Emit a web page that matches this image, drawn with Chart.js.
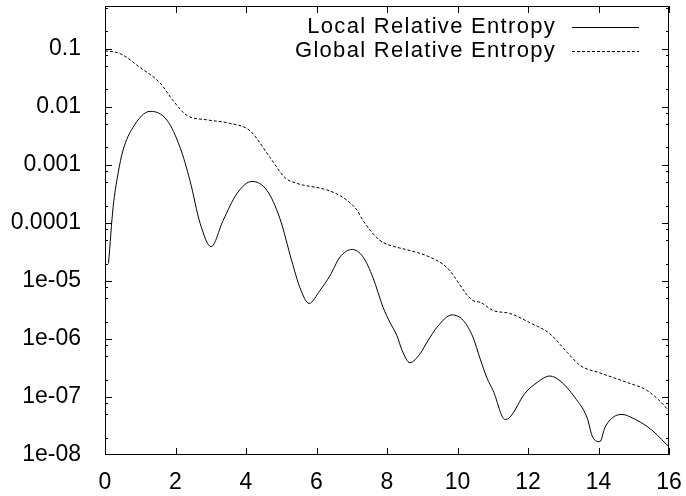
<!DOCTYPE html>
<html>
<head>
<meta charset="utf-8">
<script src="https://cdn.jsdelivr.net/npm/chart.js@4/dist/chart.umd.min.js"></script>
<style>
    body { margin: 0; background: #fff; }
    canvas { display: block; }
</style>
</head>
<body>
<canvas id="entropy" width="686" height="496"></canvas>
<script>
// Local relative entropy (solid line)
const localX = [0.1, 0.23, 0.37, 0.51, 0.79, 1.28, 1.76, 2.13, 2.41, 2.7, 3.01, 3.35, 3.74, 4.17, 4.6, 4.96, 5.3, 5.53, 5.79, 6.1, 6.38, 6.67, 7.01, 7.32, 7.6, 7.89, 8.09, 8.28, 8.43, 8.65, 8.94, 9.16, 9.42, 9.84, 10.16, 10.44, 10.64, 10.84, 11.01, 11.35, 11.49, 11.91, 12.26, 12.62, 12.91, 13.33, 13.67, 13.84, 14.04, 14.18, 14.42, 14.67, 14.98, 15.38, 15.66, 15.94, 16];
const localY = [2.0e-5, 1.86e-4, 7.1e-4, 1.78e-3, 4.4e-3, 8.4e-3, 5.9e-3, 2.0e-3, 5.4e-4, 9.8e-5, 3.9e-5, 1.1e-4, 3.2e-4, 5.2e-4, 3.6e-4, 1.2e-4, 2.2e-5, 7.7e-6, 4.1e-6, 6.9e-6, 1.23e-5, 2.6e-5, 3.5e-5, 2.6e-5, 1.15e-5, 3.5e-6, 1.9e-6, 1.15e-6, 6.3e-7, 3.9e-7, 5.6e-7, 9.3e-7, 1.6e-6, 2.6e-6, 2.1e-6, 1.07e-6, 4.6e-7, 2.1e-7, 1.29e-7, 4.1e-8, 4.5e-8, 1.15e-7, 1.78e-7, 2.3e-7, 1.9e-7, 9.8e-8, 4.5e-8, 2.0e-8, 1.7e-8, 2.95e-8, 4.5e-8, 5.0e-8, 4.3e-8, 3.1e-8, 2.24e-8, 1.5e-8, 1.4e-8];

// Global relative entropy (dashed line)
const globalX = [0, 0.43, 0.99, 1.56, 1.93, 2.33, 2.89, 3.55, 4.11, 4.68, 5.11, 5.45, 6.3, 6.75, 7.15, 7.32, 7.8, 8.28, 8.45, 9.22, 9.7, 10.44, 10.64, 11.01, 11.49, 12.06, 12.62, 13.11, 13.48, 14.04, 14.81, 15.38, 15.94, 16];
const globalY = [0.093, 0.083, 0.048, 0.026, 0.0129, 0.0071, 0.006, 0.0052, 0.0039, 0.00135, 6.0e-4, 4.8e-4, 3.7e-4, 2.75e-4, 1.66e-4, 1.1e-4, 5.0e-5, 3.8e-5, 3.6e-5, 2.57e-5, 1.7e-5, 4.6e-6, 4.3e-6, 3.1e-6, 2.75e-6, 1.9e-6, 1.23e-6, 5.9e-7, 3.5e-7, 2.6e-7, 1.78e-7, 1.29e-7, 6.3e-8, 5.6e-8];

const seriesNames = ["Local Relative Entropy", "Global Relative Entropy"];

// Axis ticks
const xTickValues = [0, 2, 4, 6, 8, 10, 12, 14, 16];
const yTickValues = [1e-8, 1e-7, 1e-6, 1e-5, 1e-4, 1e-3, 1e-2, 1e-1];
const yTickLabels = ["1e-08", "1e-07", "1e-06", "1e-05", "0.0001", "0.001", "0.01", "0.1"];
const yMinorFactors = [2, 5, 8];

const FAMILY = "'Liberation Sans', Arial, Helvetica, sans-serif";
const TICK_FONT = { family: FAMILY, size: 23 };

const toPoints = (xs, ys) => xs.map((x, i) => ({ x: x, y: ys[i] }));

// no extra room for the end labels, the frame is placed by hand
const noScalePadding = scale => {
    scale.paddingTop = 0;
    scale.paddingBottom = 0;
    scale.paddingLeft = 0;
    scale.paddingRight = 0;
};

// gnuplot style frame with inward ticks on all four sides
const framePlugin = {
    id: "frame",
    afterDraw(chart) {
        const ctx = chart.ctx;
        const a = chart.chartArea;
        const xs = chart.scales.x;
        const ys = chart.scales.y;
        ctx.save();
        ctx.strokeStyle = "#000";
        ctx.lineWidth = 1;
        ctx.beginPath();
        ctx.rect(a.left + 0.5, a.top + 0.5, a.right - a.left - 1, a.bottom - a.top - 1);

        xTickValues.forEach(v => {
            const px = Math.round(xs.getPixelForValue(v)) + 0.5;
            ctx.moveTo(px, a.bottom);
            ctx.lineTo(px, a.bottom - 7);
            ctx.moveTo(px, a.top);
            ctx.lineTo(px, a.top + 7);
        });

        const yTick = (v, len) => {
            const py = Math.round(ys.getPixelForValue(v)) + 0.5;
            if (py < a.top || py > a.bottom) return;
            ctx.moveTo(a.left, py);
            ctx.lineTo(a.left + len, py);
            ctx.moveTo(a.right, py);
            ctx.lineTo(a.right - len, py);
        };
        yTickValues.forEach(v => {
            yTick(v, 7);
            yMinorFactors.forEach(f => yTick(v * f, 3));
        });
        ctx.stroke();

        // key in the top right corner
        ctx.font = "22px " + FAMILY;
        ctx.letterSpacing = "1.3px";
        ctx.fillStyle = "#000";
        ctx.textAlign = "right";
        ctx.textBaseline = "middle";
        chart.data.datasets.forEach((ds, i) => {
            const y = 26.5 + i * 24.5;
            ctx.fillText(ds.label, 556, y);
            ctx.beginPath();
            ctx.setLineDash(ds.borderDash || []);
            ctx.moveTo(572, Math.round(y) + 0.5);
            ctx.lineTo(639, Math.round(y) + 0.5);
            ctx.stroke();
        });
        ctx.restore();
    }
};

const ctx = document.getElementById("entropy").getContext("2d");
new Chart(ctx, {
    type: "line",
    data: {
        datasets: [{
            label: seriesNames[0],
            data: toPoints(localX, localY),
            borderColor: "#000",
            borderWidth: 1,
            pointRadius: 0,
            cubicInterpolationMode: "monotone"
        }, {
            label: seriesNames[1],
            data: toPoints(globalX, globalY),
            borderColor: "#000",
            borderWidth: 1,
            borderDash: [3, 2],
            pointRadius: 0,
            cubicInterpolationMode: "monotone"
        }]
    },
    options: {
        responsive: false,
        animation: false,
        layout: { autoPadding: false, padding: { top: 6, right: 17, left: 0, bottom: 0 } },
        plugins: {
            legend: { display: false },
            tooltip: { enabled: false }
        },
        scales: {
            x: {
                type: "linear",
                min: 0,
                max: 16,
                grid: { display: false },
                border: { display: false },
                afterBuildTicks: scale => { scale.ticks = xTickValues.map(v => ({ value: v })); },
                afterFit: scale => { scale.height = 41; noScalePadding(scale); },
                ticks: { color: "#000", font: TICK_FONT, padding: 6, maxRotation: 0 }
            },
            y: {
                type: "logarithmic",
                min: 1e-8,
                max: 0.55,
                grid: { display: false },
                border: { display: false },
                afterBuildTicks: scale => { scale.ticks = yTickValues.map(v => ({ value: v })); },
                afterFit: scale => { scale.width = 105; noScalePadding(scale); },
                ticks: {
                    color: "#000",
                    font: TICK_FONT,
                    padding: 16,
                    callback: value => yTickLabels[yTickValues.indexOf(value)]
                }
            }
        }
    },
    plugins: [framePlugin]
});
</script>
</body>
</html>
